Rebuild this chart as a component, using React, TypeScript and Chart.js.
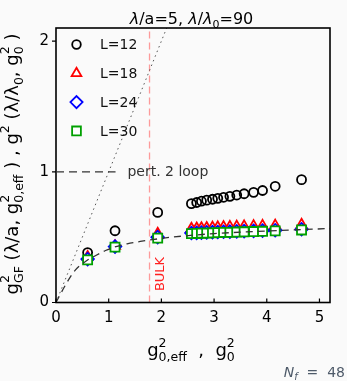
import React, { useEffect, useRef } from 'react';
import { Chart, registerables } from 'chart.js';
Chart.register(...registerables);

// ---- data ----
const X_VALUES = [0.6, 1.12, 1.93, 2.57, 2.67, 2.76, 2.86, 2.97, 3.07, 3.18, 3.3, 3.43, 3.57, 3.75, 3.92, 4.16, 4.66];
const L12 = [0.382, 0.549, 0.689, 0.756, 0.765, 0.775, 0.783, 0.79, 0.797, 0.805, 0.812, 0.822, 0.832, 0.843, 0.857, 0.889, 0.94];
const L18 = [0.35, 0.432, 0.527, 0.566, 0.568, 0.57, 0.572, 0.574, 0.576, 0.578, 0.58, 0.582, 0.584, 0.586, 0.588, 0.59, 0.596];
const L24 = [0.332, 0.428, 0.5, 0.532, 0.533, 0.535, 0.536, 0.538, 0.539, 0.541, 0.542, 0.544, 0.546, 0.548, 0.55, 0.553, 0.56];
const L30 = [0.326, 0.424, 0.493, 0.527, 0.528, 0.53, 0.531, 0.533, 0.534, 0.536, 0.537, 0.539, 0.541, 0.543, 0.545, 0.548, 0.555];
const PERT_X = [0, 0.18, 0.37, 0.6, 0.72, 0.94, 1.11, 1.35, 1.6, 1.83, 2.2, 2.6, 3.0, 3.5, 4.0, 4.5, 5.2];
const PERT_Y = [0, 0.134, 0.25, 0.325, 0.352, 0.398, 0.424, 0.449, 0.467, 0.481, 0.5, 0.515, 0.527, 0.538, 0.547, 0.555, 0.566];
const TREE_X = [0, 2.3];
const TREE_Y = [0, 2.3];
const BULK_X = 1.775;
const X_TICKS = [0, 1, 2, 3, 4, 5];
const Y_TICKS = [0, 1, 2];
const LEGEND_LABELS = ['L=12', 'L=18', 'L=24', 'L=30'];
const PERT_LABEL = 'pert. 2 loop';
const BULK_LABEL = 'BULK';

const FAM = '"DejaVu Sans"';

type Seg = { t?: string; sup?: string; sub?: string; it?: boolean; subIt?: boolean };

function fnt(size: number, it?: boolean) {
  return `${it ? 'italic ' : ''}${size}px ${FAM}`;
}

function richWidth(ctx: CanvasRenderingContext2D, segs: Seg[], F: number, S: number) {
  let w = 0;
  for (const s of segs) {
    if (s.t) { ctx.font = fnt(F, s.it); w += ctx.measureText(s.t).width; }
    let a = 0;
    if (s.sup) { ctx.font = fnt(S); a = Math.max(a, ctx.measureText(s.sup).width); }
    if (s.sub) { ctx.font = fnt(S, s.subIt); a = Math.max(a, ctx.measureText(s.sub).width); }
    w += a;
  }
  return w;
}

function drawRich(ctx: CanvasRenderingContext2D, segs: Seg[], x: number, y: number, F: number, S: number,
  align: 'left' | 'center' | 'right', supR: number, subD: number) {
  const w = richWidth(ctx, segs, F, S);
  let cx = align === 'center' ? x - w / 2 : align === 'right' ? x - w : x;
  ctx.textAlign = 'left';
  ctx.textBaseline = 'alphabetic';
  for (const s of segs) {
    if (s.t) {
      ctx.font = fnt(F, s.it);
      ctx.fillText(s.t, cx, y);
      cx += ctx.measureText(s.t).width;
    }
    let a = 0;
    if (s.sup) {
      ctx.font = fnt(S);
      ctx.fillText(s.sup, cx, y - supR);
      a = Math.max(a, ctx.measureText(s.sup).width);
    }
    if (s.sub) {
      ctx.font = fnt(S, s.subIt);
      ctx.fillText(s.sub, cx, y + subD);
      a = Math.max(a, ctx.measureText(s.sub).width);
    }
    cx += a;
  }
}

const TITLE: Seg[] = [
  { t: 'λ', it: true }, { t: '/a=5, ' }, { t: 'λ', it: true }, { t: '/' }, { t: 'λ', it: true, sub: '0' }, { t: '=90' },
];
const XLABEL: Seg[] = [{ t: 'g', sup: '2', sub: '0,eff' }, { t: '  ,  g', sup: '2', sub: '0' }];
const YLABEL: Seg[] = [
  { t: 'g', sup: '2', sub: 'GF' },
  { t: ' (λ/a, g', sup: '2', sub: '0,eff' },
  { t: ' ) , g', sup: '2' },
  { t: ' (λ/λ', sub: '0' },
  { t: ', g', sup: '2', sub: '0' },
  { t: ' )' },
];
const NOTE: Seg[] = [{ t: 'N', it: true, sub: 'f', subIt: true }, { t: '  =  48' }];

function marker(ctx: CanvasRenderingContext2D, style: string, x: number, y: number, r: number, color: string) {
  ctx.save();
  ctx.strokeStyle = color;
  ctx.lineWidth = 1.8;
  ctx.fillStyle = '#ffffff';
  ctx.beginPath();
  if (style === 'circle') {
    ctx.arc(x, y, r, 0, Math.PI * 2);
    ctx.stroke();
  } else if (style === 'triangle') {
    for (let k = 0; k < 3; k++) {
      const a = (k * 2 * Math.PI) / 3;
      const px = x + Math.sin(a) * r, py = y - Math.cos(a) * r;
      if (k === 0) ctx.moveTo(px, py); else ctx.lineTo(px, py);
    }
    ctx.closePath(); ctx.fill(); ctx.stroke();
  } else if (style === 'rectRot') {
    ctx.moveTo(x - r, y); ctx.lineTo(x, y - r); ctx.lineTo(x + r, y); ctx.lineTo(x, y + r);
    ctx.closePath(); ctx.fill(); ctx.stroke();
  } else {
    const s = r * Math.SQRT1_2;
    ctx.rect(x - s, y - s, 2 * s, 2 * s); ctx.fill(); ctx.stroke();
  }
  ctx.restore();
}

const SERIES_STYLE = [
  { style: 'circle', r: 4.5, color: '#000000' },
  { style: 'triangle', r: 5.8, color: '#ff0000' },
  { style: 'rectRot', r: 6.3, color: '#0000ff' },
  { style: 'rect', r: 6.4, color: '#00a000' },
];

const deco = {
  id: 'deco',
  beforeDraw(chart: any) {
    const ctx = chart.ctx;
    ctx.save();
    ctx.fillStyle = '#fafafa';
    ctx.fillRect(0, 0, chart.width, chart.height);
    ctx.restore();
  },
  afterDraw(chart: any) {
    const ctx: CanvasRenderingContext2D = chart.ctx;
    const { left, right, top, bottom } = chart.chartArea;
    const xs = chart.scales.x, ys = chart.scales.y;
    ctx.save();
    // frame
    ctx.strokeStyle = '#000';
    ctx.lineWidth = 1.6;
    ctx.strokeRect(left, top, right - left, bottom - top);
    // ticks
    ctx.lineWidth = 1.2;
    ctx.beginPath();
    for (const v of X_TICKS) {
      const px = xs.getPixelForValue(v);
      ctx.moveTo(px, bottom); ctx.lineTo(px, bottom - 4);
    }
    for (const v of Y_TICKS) {
      const py = ys.getPixelForValue(v);
      ctx.moveTo(left, py); ctx.lineTo(left - 4, py);
    }
    ctx.stroke();

    // legend
    LEGEND_LABELS.forEach((lab, i) => {
      const yy = top + 16.5 + i * 28.8;
      const st = SERIES_STYLE[i];
      marker(ctx, st.style, left + 20.5, yy, st.r - 0.2, st.color);
      ctx.fillStyle = '#111';
      ctx.font = fnt(14);
      ctx.textAlign = 'left';
      ctx.textBaseline = 'middle';
      ctx.fillText(lab, left + 44, yy + 1);
    });

    // pert legend sample
    const y1 = ys.getPixelForValue(1);
    ctx.strokeStyle = '#333';
    ctx.lineWidth = 1.3;
    ctx.setLineDash([8, 5]);
    ctx.beginPath();
    ctx.moveTo(left, y1); ctx.lineTo(xs.getPixelForValue(1.13), y1);
    ctx.stroke();
    ctx.setLineDash([]);
    ctx.fillStyle = '#333';
    ctx.font = fnt(14);
    ctx.textAlign = 'left';
    ctx.textBaseline = 'middle';
    ctx.fillText(PERT_LABEL, xs.getPixelForValue(1.355), y1 + 1);

    // BULK label
    ctx.save();
    ctx.translate(xs.getPixelForValue(BULK_X) + 11, bottom - 28.5);
    ctx.rotate(-Math.PI / 2);
    ctx.fillStyle = '#ff2020';
    ctx.font = fnt(13);
    ctx.textAlign = 'center';
    ctx.textBaseline = 'middle';
    ctx.fillText(BULK_LABEL, 0, 0);
    ctx.restore();

    // title
    ctx.fillStyle = '#000';
    drawRich(ctx, TITLE, 191.5, 24, 16, 11, 'center', 6, 4);
    // x label
    drawRich(ctx, XLABEL, 191, 356, 18, 12.5, 'center', 9, 5);
    // y label
    ctx.save();
    ctx.translate(18, 164);
    ctx.rotate(-Math.PI / 2);
    drawRich(ctx, YLABEL, 0, 0, 18, 12.5, 'center', 9, 5);
    ctx.restore();
    // note
    ctx.fillStyle = '#4f5b6a';
    drawRich(ctx, NOTE, 345, 377, 14, 10, 'right', 5, 3);
    ctx.restore();
  },
};

function pts(xs: number[], ys: number[]) {
  return xs.map((x, i) => ({ x, y: ys[i] }));
}

export default function App() {
  const ref = useRef<HTMLCanvasElement | null>(null);
  useEffect(() => {
    document.body.style.background = '#fafafa';
    const canvas = ref.current!;
    const series = [L12, L18, L24, L30];
    const markerSets = series.map((ys, i) => ({
      label: LEGEND_LABELS[i],
      data: pts(X_VALUES, ys),
      showLine: false,
      pointStyle: SERIES_STYLE[i].style,
      pointRadius: SERIES_STYLE[i].r,
      pointBorderColor: SERIES_STYLE[i].color,
      pointBackgroundColor: i === 0 ? 'rgba(0,0,0,0)' : '#ffffff',
      pointBorderWidth: 1.8,
      borderColor: SERIES_STYLE[i].color,
      order: 4 - i,
    }));
    const chart = new Chart(canvas, {
      type: 'scatter',
      data: {
        datasets: [
          {
            label: 'pert',
            data: pts(PERT_X, PERT_Y),
            showLine: true,
            pointRadius: 0,
            borderColor: '#333',
            borderWidth: 1.3,
            borderDash: [7, 5],
            cubicInterpolationMode: 'monotone',
            fill: false,
            order: 0,
          } as any,
          ...markerSets,
          {
            label: 'tree',
            data: pts(TREE_X, TREE_Y),
            showLine: true,
            pointRadius: 0,
            borderColor: '#555',
            borderWidth: 1,
            borderDash: [1.5, 3.5],
            order: 5,
          },
          {
            label: 'bulk',
            data: [{ x: BULK_X, y: 0 }, { x: BULK_X, y: 2.1 }],
            showLine: true,
            pointRadius: 0,
            borderColor: 'rgba(255,90,90,0.6)',
            borderWidth: 1.3,
            borderDash: [7, 4],
            order: 6,
          },
        ],
      },
      options: {
        responsive: false,
        devicePixelRatio: 1,
        animation: false,
        events: [],
        layout: { padding: { top: 28, right: 17, left: 0, bottom: 0 } },
        plugins: { legend: { display: false }, tooltip: { enabled: false }, title: { display: false } },
        scales: {
          x: {
            type: 'linear',
            min: 0,
            max: 5.2,
            afterBuildTicks: (s: any) => { s.ticks = X_TICKS.map((v) => ({ value: v })); },
            afterFit: (s: any) => { s.height = 78.5; },
            ticks: { font: { family: 'DejaVu Sans', size: 15 }, color: '#000', padding: 7, maxRotation: 0, autoSkip: false },
            grid: { display: false, drawTicks: false },
            border: { display: false },
          },
          y: {
            type: 'linear',
            min: 0,
            max: 2.1,
            afterBuildTicks: (s: any) => { s.ticks = Y_TICKS.map((v) => ({ value: v })); },
            afterFit: (s: any) => { s.width = 56; },
            ticks: { font: { family: 'DejaVu Sans', size: 15 }, color: '#000', padding: 7 },
            grid: { display: false, drawTicks: false },
            border: { display: false },
          },
        },
      },
      plugins: [deco],
    } as any);
    return () => chart.destroy();
  }, []);
  return (
    <canvas
      ref={ref}
      width={347}
      height={381}
      style={{ position: 'fixed', left: 0, top: 0, width: 347, height: 381 }}
    />
  );
}
